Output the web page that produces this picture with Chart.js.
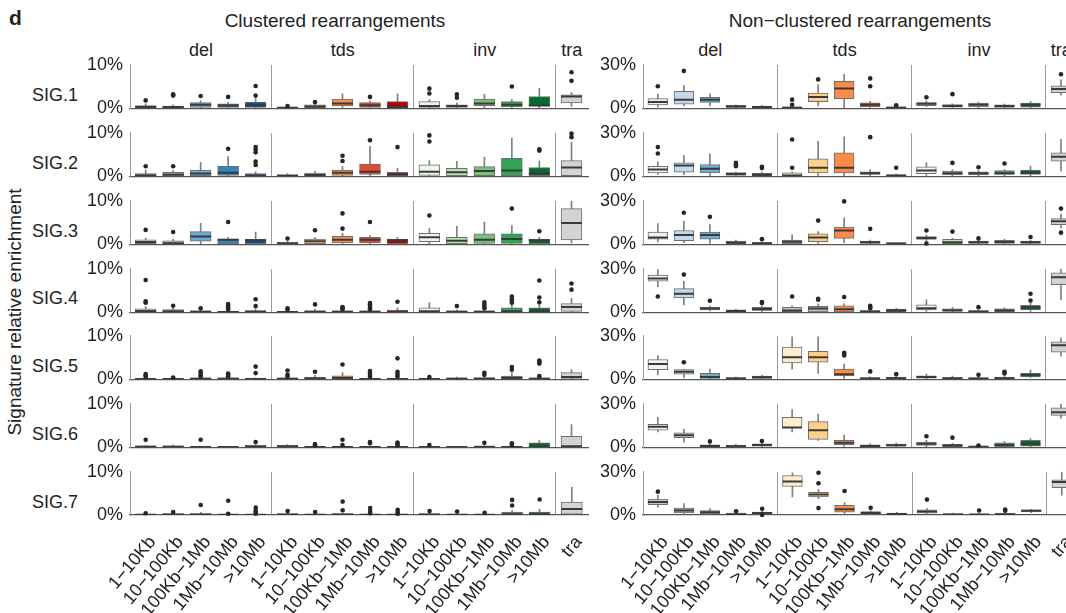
<!DOCTYPE html>
<html lang="en">
<head>
<meta charset="UTF-8">
<title>Signature relative enrichment</title>
<script src="https://cdn.jsdelivr.net/npm/chart.js@4.4.1/dist/chart.umd.min.js"></script>
<style>
  html, body { margin: 0; padding: 0; }
  body {
    width: 1066px; height: 613px; overflow: hidden; position: relative; background: #fff;
    font-family: "Liberation Sans", Arial, sans-serif; color: #222;
  }
  .t { position: absolute; white-space: nowrap; line-height: 1; font-size: 18px; }
  .hc { transform: translateX(-50%); }
  canvas { position: absolute; }
</style>
</head>
<body>
<div class="t" style="left:9px;top:7px;font-size:21px;font-weight:bold;">d</div>
<div class="t hc" style="left:335px;top:11px;font-size:19px;">Clustered rearrangements</div>
<div class="t hc" style="left:860px;top:11px;font-size:19px;">Non−clustered rearrangements</div>
<div class="t" style="left:14px;top:312px;font-size:19px;transform:translate(-50%,-50%) rotate(-90deg);">Signature relative enrichment</div>
<div id="labels"></div>

<script>
// ---- data (values in %) ----
var signatures = ['SIG.1', 'SIG.2', 'SIG.3', 'SIG.4', 'SIG.5', 'SIG.6', 'SIG.7'];
var groups = ['del', 'tds', 'inv', 'tra'];
var sizeClasses = ['1−10Kb', '10−100Kb', '100Kb−1Mb', '1Mb−10Mb', '>10Mb'];
var categories = sizeClasses.concat(sizeClasses, sizeClasses, ['tra']);
var yMaxClustered = 10;
var yMaxNonClustered = 30;

// box stats per category: [lower whisker, Q1, median, Q3, upper whisker]
var clusteredStats = [
  [[0,0.1,0.3,0.6,1.0],[0,0.1,0.3,0.5,0.8],[0,0.2,0.8,1.3,1.7],[0,0.2,0.6,1.0,1.4],[0,0.2,0.7,1.4,2.2],
   [0,0,0.1,0.2,0.4],[0,0.1,0.4,0.8,1.0],[0,0.5,1.1,2.1,3.3],[0,0.2,0.7,1.3,1.7],[0,0,0.3,1.5,3.3],
   [0,0.2,0.5,1.5,2.0],[0,0.2,0.5,0.8,1.2],[0,0.6,1.1,2.1,3.2],[0,0.3,0.8,1.5,2.0],[0,0.5,0.6,2.7,4.6],
   [0.4,1.2,2.7,3.1,3.6]],
  [[0,0,0.2,0.6,1.4],[0,0.1,0.4,0.9,1.3],[0,0.1,0.6,1.4,3.2],[0,0.2,0.8,2.3,4.5],[0,0,0.1,0.6,1.0],
   [0,0,0.1,0.4,0.6],[0,0.1,0.3,0.7,1.1],[0,0.2,0.8,1.4,2.2],[0,0.4,1.0,2.8,6.9],[0,0,0.4,0.9,1.8],
   [0,0.2,1.0,2.6,3.6],[0,0.1,0.9,1.8,3.4],[0,0.1,1.2,2.2,4.4],[0,0.1,1.3,4.1,8.8],[0,0,0.6,2.0,3.5],
   [0,0.1,2.0,3.6,7.8]],
  [[0,0,0.5,1.0,1.4],[0,0,0.2,0.8,1.2],[0,0.7,1.8,2.9,4.8],[0,0,1.0,1.2,1.6],[0,0,0.9,1.1,2.8],
   [0,0,0.2,0.5,0.7],[0,0,0.7,1.2,1.6],[0,0.3,1.0,1.8,2.5],[0,0.3,1.0,1.6,2.0],[0,0,0.9,1.2,1.6],
   [0,0.6,1.6,2.5,3.6],[0,0,0.8,1.6,4.1],[0,0.2,1.0,2.4,5.1],[0,0.2,1.2,2.4,4.3],[0,0,0.9,1.1,1.6],
   [0.3,1.0,4.9,8.2,10.0]],
  [[0,0,0.3,0.8,1.3],[0,0,0.2,0.6,0.9],[0,0,0.1,0.3,0.5],[0,0,0.05,0.2,0.4],[0,0,0.1,0.4,0.7],
   [0,0,0.05,0.2,0.4],[0,0,0.1,0.4,0.7],[0,0,0.1,0.3,0.5],[0,0,0.1,0.3,0.5],[0,0,0.1,0.5,1.0],
   [0,0,0.2,1.0,2.2],[0,0,0.1,0.3,0.5],[0,0,0.1,0.3,0.6],[0,0,0.2,1.0,1.8],[0,0,0.2,1.0,1.8],
   [0,0.2,1.2,2.0,3.2]],
  [[0,0,0.05,0.2,0.3],[0,0,0.03,0.1,0.2],[0,0,0.1,0.3,0.5],[0,0,0.1,0.3,0.5],[0,0,0.05,0.15,0.3],
   [0,0,0.1,0.3,0.5],[0,0,0.2,0.5,0.9],[0,0,0.3,0.8,1.5],[0,0,0.05,0.2,0.4],[0,0,0.05,0.2,0.4],
   [0,0,0.03,0.1,0.2],[0,0,0.1,0.3,0.5],[0,0,0.1,0.4,0.7],[0,0,0.3,0.7,1.5],[0,0,0.1,0.3,0.5],
   [0,0.2,0.5,1.5,2.2]],
  [[0,0,0.1,0.3,0.4],[0,0,0.1,0.3,0.5],[0,0,0.03,0.1,0.2],[0,0,0.02,0.05,0.1],[0,0,0.1,0.5,0.6],
   [0,0,0.2,0.5,0.6],[0,0,0.03,0.1,0.2],[0,0,0.03,0.1,0.2],[0,0,0.03,0.1,0.2],[0,0,0.03,0.1,0.2],
   [0,0,0.02,0.05,0.1],[0,0,0.02,0.05,0.1],[0,0,0.05,0.3,0.4],[0,0,0.05,0.2,0.3],[0,0,0.1,1.0,1.5],
   [0,0,0.2,2.5,5.2]],
  [[0,0,0.03,0.1,0.2],[0,0,0.1,0.3,0.5],[0,0,0.1,0.3,0.6],[0,0,0.03,0.1,0.2],[0,0,0.03,0.1,0.2],
   [0,0,0.1,0.3,0.5],[0,0,0.05,0.2,0.4],[0,0,0.1,0.3,0.5],[0,0,0.03,0.1,0.2],[0,0,0.03,0.1,0.2],
   [0,0,0.1,0.3,0.5],[0,0,0.05,0.2,0.4],[0,0,0.03,0.1,0.2],[0,0,0.2,0.7,1.0],[0,0,0.2,0.7,1.3],
   [0,0.2,1.4,3.0,6.4]]
];
var clusteredOutliers = [
  [[1.8],[2.9,3.2],[2.8],[2.6],[2.9,5.1],[0.5],[1.4],[],[2.6],[],[3.4,4.5],[2.4,3.2],[],[5.0],[],[6.3,8.3]],
  [[2.3],[2.3],[],[6.3],[2.6,3.4,5.5,6.1,6.7],[],[],[3.5,4.7],[8.3],[6.7],[8.0,9.4],[],[],[],[5.9,6.2],[9.0,9.8]],
  [[3.3],[2.8],[],[5.1],[],[1.3],[3.2],[3.6,7.1],[5.1],[],[6.6],[],[],[8.2],[3.0],[]],
  [[2.2,2.5,7.4],[1.5],[0.9],[0.7,1.1,1.5,1.9],[1.4,3.0],[0.6,0.9],[1.8],[0.7,1.0,1.2],[0.7,1.0,1.4,1.8,2.1],[2.4],
   [],[1.4],[0.9,1.3,1.8,2.3],[2.2,2.6,3.0,3.6],[2.3,3.4,7.3],[5.2,6.6]],
  [[0.5,0.9,1.2],[0.4],[0.7,1.0,1.4,1.8],[0.7,1.0,1.3],[1.4,2.9],[0.7,1.0,2.0],[1.7],[3.4],[0.6,1.0,1.4,1.9],[0.7,1.2,1.7,4.8],
   [0.5],[],[1.0,1.5],[2.2,2.8],[0.7,3.6,3.9,4.3],[]],
  [[1.7],[],[1.7],[],[1.2],[],[0.4,0.7],[0.5,1.7],[0.9,1.2],[0.4,0.8,1.1],[0.5],[],[1.0],[0.5,0.9],[],[]],
  [[0.4],[0.7],[2.3],[0.3,3.3],[0.3,0.7,1.0,1.7],[0.9],[0.7],[1.1,3.1],[0.4,0.9,1.6],[0.3,0.7,1.2],
   [0.9],[0.8],[0.5],[2.2,3.5],[3.6],[]]
];

var nonClusteredStats = [
  [[0.7,2.3,4.2,6.6,9.8],[1.5,2.8,5.9,11.7,15.7],[1.6,4.0,5.9,7.5,10.0],[0.2,0.5,1.2,1.9,2.3],[0,0.1,0.8,1.4,1.8],
   [0,0,0.3,0.9,1.5],[1.5,4.5,7.7,10.5,16.4],[0,6.6,13.6,18.5,23.4],[0.5,0.9,2.3,3.7,4.7],[0,0,0.3,0.9,1.2],
   [1.0,1.8,3.0,3.9,5.1],[0,0.7,1.6,2.5,3.0],[0.3,0.9,2.3,3.5,4.2],[0.2,0.5,1.5,2.3,2.8],[0.2,0.7,2.3,3.5,4.6],
   [9.0,10.8,13.2,15.5,19.6]],
  [[1.2,2.3,4.6,6.9,9.9],[1.0,2.8,7.4,9.2,14.5],[0.5,2.3,5.1,8.1,15.5],[0,0.5,1.6,2.5,2.8],[0,0.2,1.0,2.0,2.8],
   [0,0,0.5,2.3,3.0],[0.5,2.3,5.8,12.0,24.2],[0,2.3,5.8,16.2,27.2],[0.3,1.2,2.1,3.0,4.6],[0,0,0.4,0.9,1.5],
   [0.5,1.8,3.9,6.5,9.2],[0.2,0.9,2.1,3.5,4.6],[0.2,0.9,2.0,3.0,3.9],[0.2,1.2,2.0,3.9,4.6],[0.2,1.2,2.3,4.2,7.0],
   [3.5,10.4,13.4,16.2,25.4]],
  [[1.5,3.5,4.7,8.3,14.2],[1.0,2.4,6.4,9.5,15.8],[0.5,3.5,6.4,8.3,13.5],[0,0,1.0,2.1,2.8],[0,0,0.6,1.2,1.5],
   [0,0,1.7,2.8,6.4],[0.5,1.7,4.7,7.1,8.7],[1.0,4.0,9.5,11.8,18.2],[0.3,0.5,1.4,2.1,2.8],[0,0,0.5,0.9,1.2],
   [2.0,3.3,4.3,5.2,6.4],[0,0,1.4,3.3,4.0],[0.2,0.5,1.4,2.1,2.8],[0.2,0.5,1.6,2.6,3.5],[0.2,0.5,1.4,2.1,2.8],
   [11.1,13.5,15.8,17.7,20.6]],
  [[17.4,21.4,23.3,25.6,29.5],[5.1,9.8,12.8,16.3,21.4],[0.8,1.6,2.6,3.5,4.0],[0,0.2,0.9,1.6,2.0],[0.3,1.2,2.1,3.3,4.2],
   [0,0.2,1.2,3.3,4.4],[0,0.2,2.6,4.0,5.8],[0,0.2,2.1,4.4,5.8],[0,0,0.5,1.2,2.0],[0,0.2,1.2,2.1,2.6],
   [0.5,1.6,2.8,5.1,8.6],[0.2,0.5,1.4,2.3,3.3],[0,0,0.5,1.2,1.8],[0,0,1.2,2.3,3.0],[0.5,1.6,3.3,4.7,6.7],
   [8.6,19.1,24.2,27.2,30.0]],
  [[3.0,6.6,10.5,13.6,16.4],[1.0,3.5,5.2,6.6,6.9],[0,0.5,1.6,4.0,7.0],[0,0,0.5,1.2,1.5],[0.2,0.5,1.4,2.1,2.8],
   [7.0,11.2,15.2,22.2,29.3],[4.0,11.7,15.2,19.2,29.3],[0.5,2.3,3.5,7.0,10.5],[0,0,0.5,1.2,1.6],[0,0,0.7,1.4,1.8],
   [0.2,0.7,1.6,2.3,3.5],[0,0,0.6,1.2,2.1],[0,0,0.4,0.9,1.2],[0,0,0.6,1.4,1.8],[1.0,1.6,3.0,4.0,6.3],
   [15.9,18.7,23.4,25.8,28.6]],
  [[10.6,11.8,14.2,15.8,20.6],[3.5,6.6,8.3,9.9,12.5],[0,0,0.8,1.7,2.3],[0,0,0.7,1.4,1.9],[0.3,0.7,1.5,2.4,2.8],
   [10.6,13.5,13.7,20.6,26.0],[4.7,5.4,11.8,17.7,22.9],[0.5,1.7,3.1,4.7,8.3],[0,0,0.9,1.7,2.4],[0.3,0.7,1.4,2.1,2.8],
   [0.3,1.2,2.4,3.5,4.7],[0,0,1.2,1.9,2.6],[0,0,0.3,0.7,0.9],[0,0,1.6,3.1,4.0],[0.3,0.7,2.4,4.7,6.0],
   [20.1,22.0,24.1,27.2,29.6]],
  [[5.5,7.1,9.0,11.0,13.8],[0.5,1.4,3.1,4.8,7.9],[0,0.7,1.9,3.1,4.5],[0,0,0.6,1.4,1.9],[0.2,0.7,1.4,2.1,3.0],
   [12.6,19.8,23.3,27.4,29.3],[11.4,12.6,14.3,15.7,17.9],[0.5,1.9,4.0,6.7,8.6],[0.3,0.5,1.4,2.4,3.0],[0,0.2,0.7,1.4,1.9],
   [0.5,1.2,2.4,3.6,4.5],[0,0,0.4,1.0,1.4],[0,0,0.3,0.7,1.0],[0,0,0.5,1.2,1.9],[1.7,2.1,2.9,3.6,4.0],
   [13.8,19.0,22.9,24.5,30.0]]
];
var nonClusteredOutliers = [
  [[15.2],[25.8],[],[],[],[2.3,5.9],[19.9],[],[15.2,20.6],[2.0],[7.6],[9.7],[],[],[],[23.5]],
  [[15.7,20.1],[],[],[6.9,8.1,9.2],[5.6,6.5],[5.8,25.4],[],[],[27.0],[5.8],[],[9.2],[6.2],[8.8],[],[]],
  [[],[21.7],[18.9],[],[3.5],[],[16.3],[29.6],[10.6],[],[0.5,9.5],[8.7],[4.0],[],[5.0],[8.0,24.6]],
  [[10.9],[26.0],[7.9],[],[6.3,7.0],[10.9],[8.6,9.3],[10.5],[2.8,3.6,4.5],[],[],[],[3.5],[],[8.1,12.8],[]],
  [[],[11.7],[],[],[],[],[],[16.4,17.6,18.3],[5.4],[3.5],[],[],[3.0],[4.0,5.2],[],[]],
  [[],[],[4.0],[],[4.3],[],[],[],[],[],[7.6],[6.6],[1.2],[],[],[]],
  [[16.2],[],[],[2.6],[0,4.3],[],[4.8,22.1,29.3],[16.7],[5.0],[],[10.7],[],[3.1],[2.9,3.8],[],[]]
];

// boxes shown in grey in the figure (category indices per signature)
var clusteredGrey = [[0, 1, 5, 6], [5], [], [], [], [5], []];
var nonClusteredGrey = [[10, 11], [11, 12], [5, 10], [5, 6], [10], [10, 11], [0, 1, 2, 10, 14]];

// ---- styling / layout ----
var boxColors = ['#eef2f9', '#c3d8ec', '#6aaed6', '#3182bd', '#0b4f99',
                 '#fdeccd', '#fdd08a', '#fc8a4b', '#e34a33', '#b30000',
                 '#edf8e9', '#bae4b3', '#74c476', '#31a354', '#006d2c',
                 '#d3d3d3'];
var GROUP_W = 5.16, SLOT0 = 0.57, TRA_W = 1.2;
var X_MAX = 3 * GROUP_W + TRA_W;
var PLOT_LEFT = [130, 643];
var UNIT = [27.5, 26.05];
var ROW_TOP0 = 65, ROW_PITCH = 67.8, PLOT_H = 43;
var Y_AXIS_W = 60;

function xPos(i) {
  if (i === 15) return 3 * GROUP_W + 0.58;
  return Math.floor(i / 5) * GROUP_W + SLOT0 + (i % 5);
}
var xTicks = categories.map(function (c, i) { return xPos(i); });
var sepTicks = [GROUP_W, 2 * GROUP_W, 3 * GROUP_W];

// blend a palette colour towards grey
function greyed(hex) {
  var n = parseInt(hex.slice(1), 16);
  var c = [(n >> 16) & 255, (n >> 8) & 255, n & 255].map(function (v) { return Math.round(v * 0.3 + 178 * 0.7); });
  return 'rgb(' + c.join(',') + ')';
}

function addText(txt, left, top, extra) {
  var d = document.createElement('div');
  d.className = 't';
  d.textContent = txt;
  d.style.left = left + 'px';
  d.style.top = top + 'px';
  if (extra) d.style.cssText += extra;
  document.getElementById('labels').appendChild(d);
}

// group headers
[0, 1].forEach(function (p) {
  groups.forEach(function (g, gi) {
    var mid = gi < 3 ? (gi + 0.5) * GROUP_W : 3 * GROUP_W + 0.58;
    addText(g, PLOT_LEFT[p] + mid * UNIT[p], 41, 'transform:translateX(-50%);');
  });
});
// row labels
signatures.forEach(function (s, r) {
  var base = ROW_TOP0 + r * ROW_PITCH + PLOT_H;
  addText(s, 78, base - 22, 'transform:translateX(-100%);');
});

function makeChart(r, p) {
  var stats = (p === 0 ? clusteredStats : nonClusteredStats)[r];
  var outs = (p === 0 ? clusteredOutliers : nonClusteredOutliers)[r];
  var grey = (p === 0 ? clusteredGrey : nonClusteredGrey)[r];
  var yMax = p === 0 ? yMaxClustered : yMaxNonClustered;
  var bottom = r === signatures.length - 1;
  var unit = UNIT[p];
  var boxW = 0.76 * unit;
  var plotW = X_MAX * unit;
  var xH = bottom ? 100 : 0;
  var padT = 14, padB = bottom ? 0 : 14;

  var whisk = [], box = [], med = [], pts = [];
  stats.forEach(function (s, i) {
    var x = xPos(i);
    whisk.push({x: x, y: [s[0], s[4]]});
    box.push({x: x, y: [s[1], s[3]]});
    med.push({x: x, y: s[2]});
    outs[i].forEach(function (v) { pts.push({x: x, y: v}); });
  });
  var fills = boxColors.map(function (c, i) { return grey.indexOf(i) >= 0 ? greyed(c) : c; });

  var canvas = document.createElement('canvas');
  canvas.width = Y_AXIS_W + Math.ceil(plotW) + 6;
  canvas.height = padT + PLOT_H + padB + xH;
  document.body.appendChild(canvas);

  var chart = new Chart(canvas, {
    type: 'bar',
    data: {
      datasets: [
        {type: 'line', data: pts, showLine: false, pointRadius: 2.3, pointBackgroundColor: '#262626',
         pointBorderWidth: 0, order: 0, clip: false},
        {type: 'line', data: med, showLine: false, pointStyle: 'line', pointRadius: boxW / 2,
         pointBorderColor: '#3a3a3a', pointBorderWidth: 2, order: 1},
        {data: box, backgroundColor: fills, borderColor: '#6e6e6e', borderWidth: 1,
         borderSkipped: false, barThickness: boxW, grouped: false, order: 2},
        {data: whisk, backgroundColor: '#808080', borderWidth: 0, barThickness: 1, grouped: false, order: 3}
      ]
    },
    options: {
      responsive: false,
      maintainAspectRatio: false,
      animation: false,
      events: [],
      layout: {padding: {top: padT, right: 6, bottom: padB, left: 0}},
      plugins: {legend: {display: false}, tooltip: {enabled: false}},
      scales: {
        x: {
          type: 'linear', min: 0, max: X_MAX, offset: false,
          grid: {display: true, drawOnChartArea: false, drawTicks: false, offset: false},
          border: {display: true, color: '#555', width: 1.2},
          afterBuildTicks: function (s) { s.ticks = xTicks.map(function (v) { return {value: v}; }); },
          afterFit: function (s) { s.height = xH; },
          ticks: {
            display: bottom, autoSkip: false, minRotation: 50, maxRotation: 50,
            padding: 17, labelOffset: 7, color: '#222',
            font: {family: 'Liberation Sans', size: 18},
            callback: function (v, i) { return categories[i]; }
          }
        },
        sep: {
          type: 'linear', position: 'top', min: 0, max: X_MAX, offset: false,
          afterBuildTicks: function (s) { s.ticks = sepTicks.map(function (v) { return {value: v}; }); },
          afterFit: function (s) { s.height = 0; },
          ticks: {display: false},
          grid: {display: true, drawOnChartArea: true, drawTicks: false, offset: false, color: '#9a9a9a', lineWidth: 1},
          border: {display: false}
        },
        y: {
          min: 0, max: yMax,
          afterBuildTicks: function (s) { s.ticks = [{value: 0}, {value: yMax}]; },
          afterFit: function (s) { s.width = Y_AXIS_W; },
          ticks: {
            padding: 7, color: '#222', font: {family: 'Liberation Sans', size: 18},
            callback: function (v) { return v + '%'; }
          },
          grid: {display: true, drawOnChartArea: false, drawTicks: false},
          border: {display: true, color: '#9a9a9a', width: 1}
        }
      }
    }
  });

  // put the plot area exactly where it sits in the figure
  var ca = chart.chartArea;
  var dw = plotW - (ca.right - ca.left), dh = PLOT_H - (ca.bottom - ca.top);
  if (Math.abs(dw) > 0.5 || Math.abs(dh) > 0.5) {
    chart.resize(Math.round(canvas.width + dw), Math.round(canvas.height + dh));
    ca = chart.chartArea;
  }
  canvas.style.left = (PLOT_LEFT[p] - ca.left) + 'px';
  canvas.style.top = (ROW_TOP0 + r * ROW_PITCH - ca.top) + 'px';
  return chart;
}

signatures.forEach(function (s, r) {
  makeChart(r, 0);
  makeChart(r, 1);
});
</script>
</body>
</html>
